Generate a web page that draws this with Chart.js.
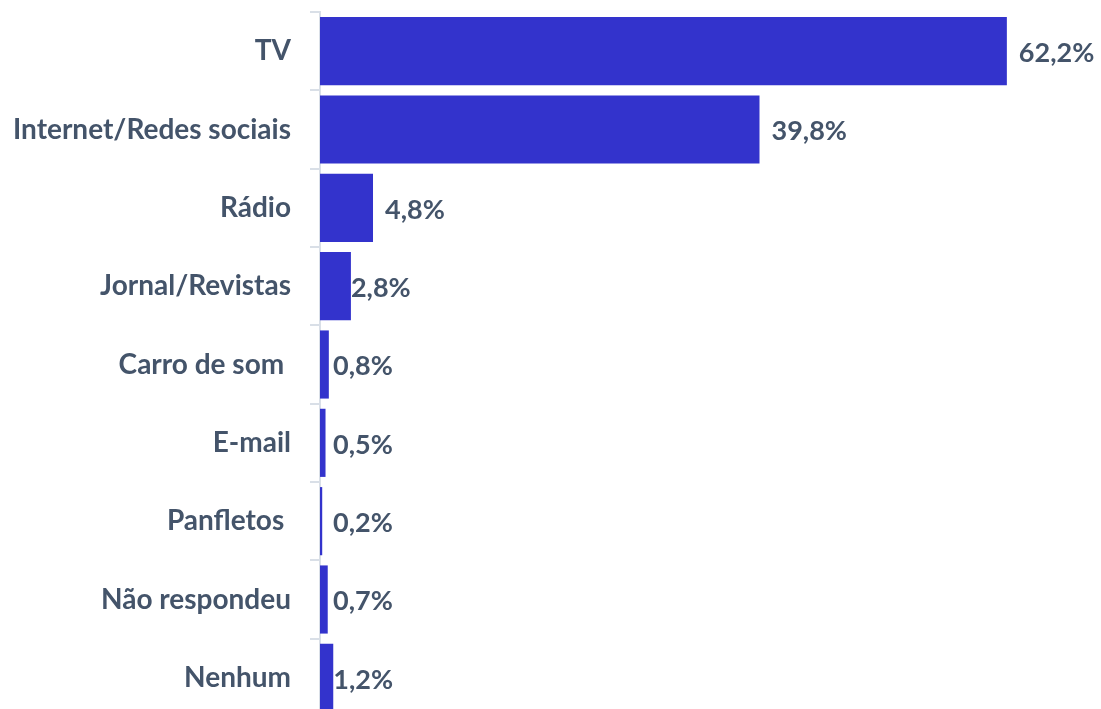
<!DOCTYPE html>
<html lang="pt-BR">
<head>
<meta charset="utf-8">
<title>Meios de informação</title>
<script src="https://cdn.jsdelivr.net/npm/chart.js@4/dist/chart.umd.min.js"></script>
<style>
  html, body { margin: 0; padding: 0; background: #ffffff; overflow: hidden; }
  #wrap { position: relative; width: 1101px; height: 720px; }
</style>
</head>
<body>
<div id="wrap"><canvas id="chart"></canvas></div>
<script>
const categories = [
  "TV",
  "Internet/Redes sociais",
  "Rádio",
  "Jornal/Revistas",
  "Carro de som ",
  "E-mail",
  "Panfletos ",
  "Não respondeu",
  "Nenhum",
];
const shares = [62.2, 39.8, 4.8, 2.8, 0.8, 0.5, 0.2, 0.7, 1.2];

const barColor = "#3333cc";
const textColor = "#44546a";
const axisColor = "#d9dfe7";
const fontFamily = "Lato, 'Open Sans', sans-serif";

function formatShare(value) {
  return value.toFixed(1).replace(".", ",") + "%";
}

// percent labels to the right of each bar; short bars get the label tucked right up against them
const valueLabels = {
  id: "valueLabels",
  afterDatasetsDraw(chart) {
    const { ctx, chartArea } = chart;
    const meta = chart.getDatasetMeta(0);
    ctx.save();
    ctx.font = `bold 27px ${fontFamily}`;
    ctx.fillStyle = textColor;
    ctx.textAlign = "left";
    ctx.textBaseline = "middle";
    meta.data.forEach((bar, i) => {
      const width = bar.x - chartArea.left;
      const gap = width > 40 ? 12 : 0;
      const x = Math.max(bar.x + gap, chartArea.left + 13);
      ctx.fillText(formatShare(shares[i]), x, bar.y + 2);
    });
    ctx.restore();
  },
};

const chart = new Chart(document.getElementById("chart"), {
  type: "bar",
  data: {
    labels: categories,
    datasets: [
      {
        data: shares,
        backgroundColor: barColor,
        borderWidth: 0,
        barPercentage: 0.87,
        categoryPercentage: 1,
      },
    ],
  },
  options: {
    indexAxis: "y",
    responsive: true,
    maintainAspectRatio: false,
    animation: false,
    layout: { padding: { top: 12, right: 8, bottom: 3, left: 0 } },
    plugins: {
      legend: { display: false },
      tooltip: { enabled: false },
    },
    scales: {
      x: {
        display: false,
        min: 0,
        max: 70,
      },
      y: {
        z: 1,
        afterFit(scale) {
          scale.width = 320;
          scale.paddingTop = 0;
          scale.paddingBottom = 0;
        },
        grid: {
          drawOnChartArea: false,
          drawTicks: true,
          tickLength: 10,
          color: axisColor,
          lineWidth: 2,
          offset: true,
        },
        border: { display: true, color: axisColor, width: 2 },
        ticks: {
          padding: 19,
          color: textColor,
          font: { family: fontFamily, size: 28, weight: "bold" },
        },
      },
    },
  },
  plugins: [valueLabels],
});
</script>
</body>
</html>
